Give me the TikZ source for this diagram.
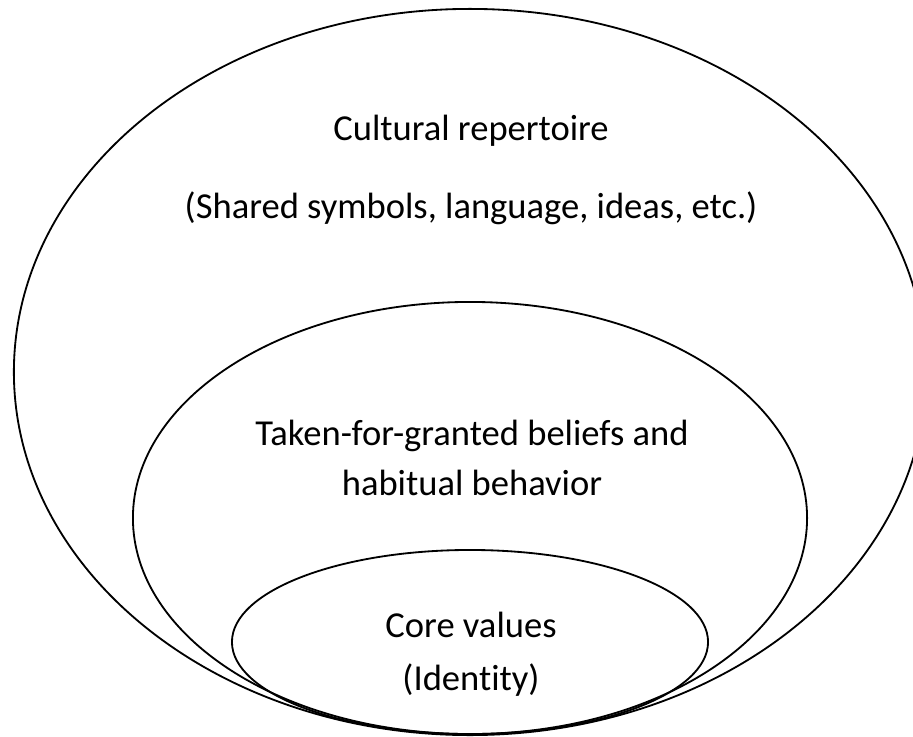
\documentclass[tikz,border=0pt]{standalone}
\usepackage{fontspec}
\setmainfont{Carlito}[Ligatures=NoCommon]
\usepackage{tikz}

\tikzset{
  ring/.style={draw=black, line width=1.3pt},
  layertext/.style={anchor=base, inner sep=0pt, font=\fontsize{26}{31}\selectfont}
}

\begin{document}
\begin{tikzpicture}[x=0.025cm, y=-0.025cm]
    \useasboundingbox (0,0) rectangle (913,736);

    % nested layers
    \draw[ring] (470,372) ellipse [x radius=11.4cm, y radius=9.075cm];
    \draw[ring] (470,518) ellipse [x radius=8.425cm, y radius=5.4cm];
    \draw[ring] (470,642) ellipse [x radius=5.95cm, y radius=2.3cm];

    \node[layertext] (repertoire) at (471,140) {Cultural repertoire};
    \node[layertext] (shared) at (471,218) {(Shared symbols, language, ideas, etc.)};
    \node[layertext] (beliefs) at (472,445) {Taken-for-granted beliefs and};
    \node[layertext] (habits) at (472,495) {habitual behavior};
    \node[layertext] (core) at (471,637) {Core values};
    \node[layertext] (identity) at (471,690) {(Identity)};
\end{tikzpicture}
\end{document}
